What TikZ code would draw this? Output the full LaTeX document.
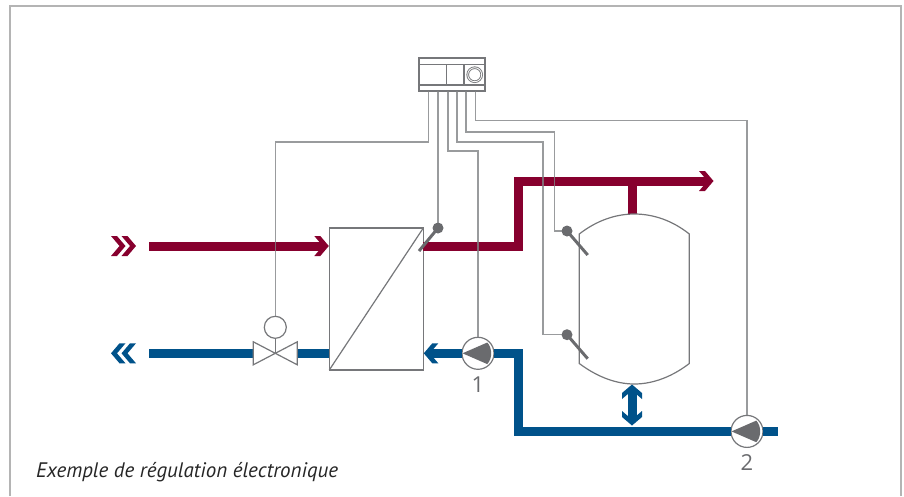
\documentclass[tikz,border=0pt]{standalone}
\usepackage{fontspec}
\setmainfont{PT Sans}
\newfontfamily\digitfont{Open Sans}
\usetikzlibrary{positioning}
\definecolor{hotred}{HTML}{87002E}
\definecolor{coldblue}{HTML}{00528A}
\definecolor{partgray}{HTML}{76777A}
\definecolor{bulbgray}{HTML}{6A6B6E}
\definecolor{wiregray}{HTML}{808285}
\definecolor{framegray}{HTML}{B4B4B4}

\begin{document}
\begin{tikzpicture}[x=1pt,y=-1pt]

	\tikzset{
		part/.style={
				draw=partgray, fill=white, line width=1.2pt, inner sep=0pt, outer sep=0pt
			},
		exchanger/.style={
				part, rectangle, minimum width=94pt, minimum height=142pt
			},
		pump/.style={
				part, circle, minimum size=32pt
			},
		head/.style={
				part, circle, minimum size=22pt
			},
		bulb/.style={
				circle, fill=bulbgray, inner sep=0pt, outer sep=0pt, minimum size=11pt
			},
		hotpipe/.style={draw=hotred, line width=9pt},
		coldpipe/.style={draw=coldblue, line width=9pt},
		wire/.style={draw=wiregray, line width=1.3pt, opacity=0.8},
		stem/.style={draw=bulbgray, line width=3pt},
		number/.style={text=bulbgray, font=\digitfont\fontsize{22}{22}\selectfont, inner sep=0pt},
		chevron/.pic={
				\path[pic actions] (-7,-10) -- (-1,-10) -- (7.5,0) -- (-1,10) -- (-7,10) -- (1.5,0) -- cycle;
			},
	}

	\useasboundingbox (0,0) rectangle (904,496);
	\draw[draw=framegray, line width=2pt] (10,496) -- (10,6) -- (900.5,6) -- (900.5,496);

	\node[exchanger](ex) at (376.3,299){};
	\node[pump](p1) at (478,353.3){};
	\node[pump](p2) at (747,431.4){};
	\node[head](act) at (275.3,327.3){};
	\node[part, rectangle, minimum width=66pt, minimum height=33pt](ctrl) at (452,74.5){};
	\node[part, circle, line width=0.9pt, double, double distance=0.8pt, minimum size=14pt](knob) at (474.7,74.7){};
	\node[number, below=15pt of p1.south, anchor=center](n1) {1};
	\node[number, below=15pt of p2.south, anchor=center](n2) {2};
	\node[bulb](s1) at (438,228){};
	\node[bulb](s2) at (567,231){};
	\node[bulb](s3) at (567,334.7){};

	\coordinate[below=15pt of act] (v);
	\coordinate[left=22pt of v] (vl);
	\coordinate[right=22pt of v] (vr);
	\coordinate (hotin) at (149,246);
	\coordinate (coldout) at (149,353.3);
	\coordinate (coldend) at (778.3,431.4);
	\coordinate (hotend) at (709,181);
	\coordinate (hotbend) at (518.8,181);
	\coordinate (tanktop) at (632,214);
	\coordinate (tankbot) at (632,384);

	\draw[coldpipe] (coldout) -- (vl);
	\draw[coldpipe] (vr) -- (ex.west |- v);
	\draw[hotpipe] (hotin) -- ([xshift=-5pt]ex.west |- hotin);
	\draw[hotpipe] (ex.east |- hotin) -| (hotbend) -- (hotend);
	\draw[hotpipe] (tanktop |- hotend) -- (tanktop);
	\draw[coldpipe] ([xshift=5pt]ex.east |- p1) -- (p1.west);
	\draw[coldpipe] (p1.east) -| (hotbend |- p2) -- (p2.west);
	\draw[coldpipe] (p2.east) -- (coldend);
	\draw[coldpipe] ([yshift=-5pt]tankbot) -- ([yshift=-37pt]tankbot);

	\pic[fill=hotred] at (118,246) {chevron};
	\pic[fill=hotred] at (128.5,246) {chevron};
	\pic[fill=coldblue, rotate=180] at (129,353.3) {chevron};
	\pic[fill=coldblue, rotate=180] at (118.5,353.3) {chevron};
	\pic[fill=hotred] at ([xshift=-8pt]ex.west |- hotin) {chevron};
	\pic[fill=hotred] at ([xshift=-3pt]hotend) {chevron};
	\pic[fill=coldblue, rotate=180] at ([xshift=8pt]ex.east |- p1) {chevron};
	\pic[fill=coldblue, rotate=90] at ([yshift=-8pt]tankbot) {chevron};
	\pic[fill=coldblue, rotate=-90] at ([yshift=-34pt]tankbot) {chevron};

	\draw[part] (ex.south west) -- (ex.north east);
	\draw[part] (v) -- ++(-22,-11.5) -- ++(0,23) -- ++(44,-23) -- ++(0,23) -- cycle;
	\draw[part] (act.south) -- (v);
	\draw[part, fill=none] (579.3,234) .. controls (596,221) and (615,214) .. (634.3,214) .. controls (654,214) and (673,221) .. (689.3,234) -- (689.3,363.5) .. controls (673,376) and (654,384) .. (634.3,384) .. controls (615,384) and (596,376) .. (579.3,363.5) -- cycle;
	\draw[part] ([yshift=-6.3pt]ctrl.north west) -- ([yshift=-6.3pt]ctrl.north east);
	\draw[part] ([yshift=6pt]ctrl.south west) -- ([yshift=6pt]ctrl.south east);
	\draw[part] (446.7,64) -- (446.7,85);
	\draw[part] (464,64) -- (464,85);

	\foreach \n in {p1,p2}{
			\fill[bulbgray] ([xshift=-15.5pt]\n.center) -- ([shift={(9.3pt,10.8pt)}]\n.center) .. controls ([shift={(14.5pt,5pt)}]\n.center) and ([shift={(14.5pt,-5pt)}]\n.center) .. ([shift={(9.3pt,-10.8pt)}]\n.center) -- cycle;
		}

	\draw[wire] ([xshift=-23.5pt]ctrl.south) -- ++(0,51) -| (act.north);
	\draw[wire] ([xshift=-14pt]ctrl.south) -- (s1);
	\draw[wire] ([xshift=-4pt]ctrl.south) -- ++(0,60) -| (p1.north);
	\draw[wire] ([xshift=5pt]ctrl.south) -- ++(0,51) -| (543,334.7) -- (s3);
	\draw[wire] ([xshift=14pt]ctrl.south) -- ++(0,41) -| (554.5,231) -- (s2);
	\draw[wire] ([xshift=23.5pt]ctrl.south) -- ++(0,29.5) -| (p2.north);

	\draw[stem] (s1.center) -- ++(-19,23);
	\draw[stem] (s2.center) -- ++(20.7,24);
	\draw[stem] (s3.center) -- ++(20.7,24);

	\node[anchor=base west, inner sep=0pt, text=black!85, font=\fontsize{21}{21}\selectfont\itshape](title) at (36,477.7) {Exemple de régulation électronique};
\end{tikzpicture}
\end{document}
